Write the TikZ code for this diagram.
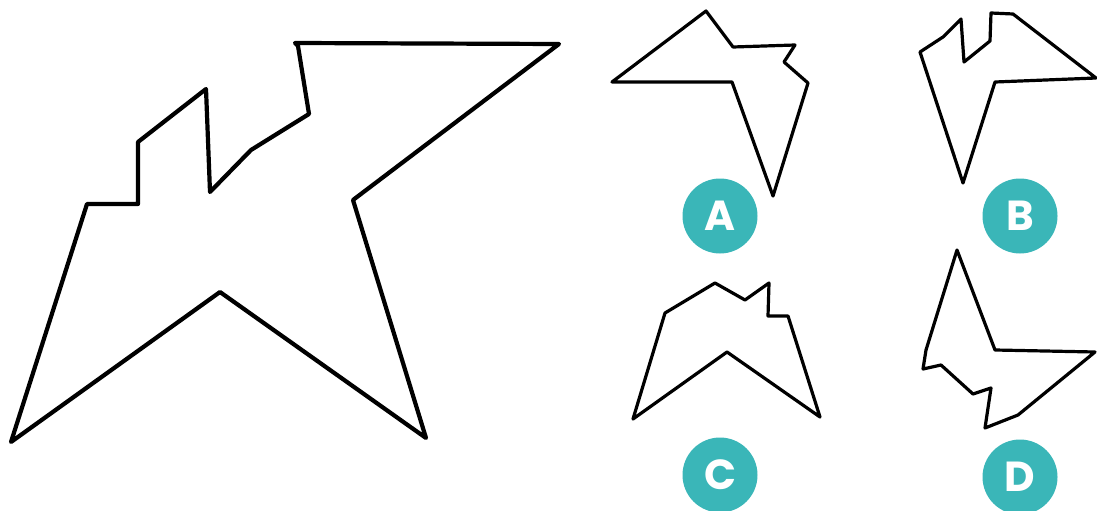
\documentclass[tikz,border=0pt]{standalone}
\usepackage{fontspec}
\newfontfamily\poppins{Poppins}
\usepackage{tikz}
\definecolor{tealmark}{HTML}{3AB6B8}

\begin{document}
\begin{tikzpicture}[x=1pt,y=-1pt,line join=round,
  outline/.style={draw=black,line width=4.2pt},
  piece/.style={draw=black,line width=3.2pt},
  badge/.style={circle,fill=tealmark,minimum size=75pt,inner sep=0pt,
    text=white,font=\poppins\bfseries\fontsize{42}{42}\selectfont}]
\useasboundingbox (0,0) rectangle (1097,511);

\draw[outline] (295,43) -- (559,44) -- (353,200) -- (426,438) -- (220,292)
  -- (11,442) -- (87,204) -- (138,204) -- (138,142) -- (206,89) -- (210,192)
  -- (251,150) -- (309,114) -- (298,46) -- cycle;

\draw[piece] (706,11) -- (733,47) -- (795,45) -- (784,62) -- (808,83)
  -- (773,196) -- (732,82) -- (612,82) -- cycle;
\draw[piece] (991,13) -- (1013,14) -- (1096,78) -- (995,82) -- (963,183)
  -- (920,52) -- (943,37) -- (961,19) -- (964,62) -- (990,41) -- cycle;
\draw[piece] (715,283) -- (745,300) -- (769,283) -- (768,316) -- (788,316)
  -- (820,417) -- (727,352) -- (633,419) -- (665,313) -- cycle;
\draw[piece] (957,250) -- (995,350) -- (1095,352) -- (1018,415) -- (985,428)
  -- (991,388) -- (973,394) -- (941,365) -- (923,369) -- (926,350) -- cycle;

\node[badge] (labA) at (720,216) {A};
\node[badge] (labB) at (1020,216) {B};
\node[badge] (labC) at (720,475) {C};
\node[badge] (labD) at (1020,477) {D};
\end{tikzpicture}
\end{document}
